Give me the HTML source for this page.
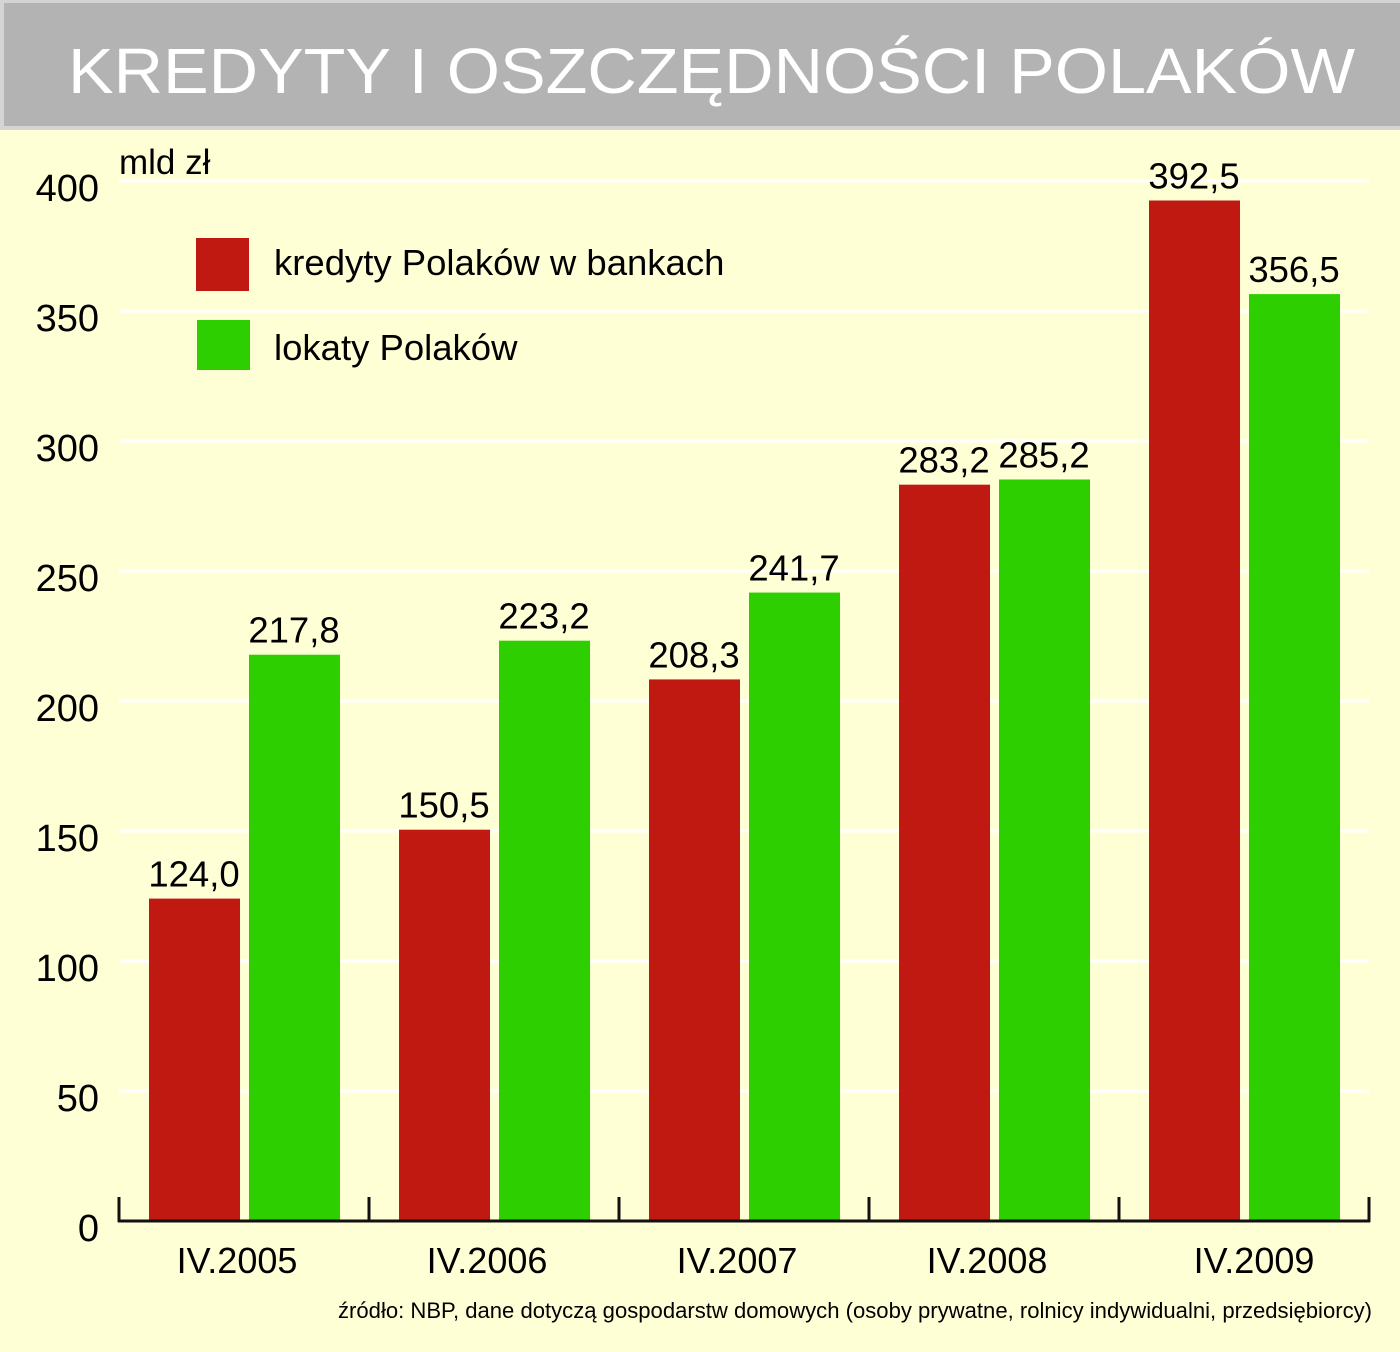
<!DOCTYPE html>
<html><head><meta charset="utf-8"><style>
html,body{margin:0;padding:0;}
body{width:1400px;height:1347px;background:#ffffd6;font-family:"Liberation Sans",sans-serif;overflow:hidden;}
</style></head><body>
<svg width="1400" height="1347" xmlns="http://www.w3.org/2000/svg">
<rect x="0" y="0" width="1400" height="1347" fill="#ffffd6"/>
<rect x="0" y="0" width="1400" height="130" fill="#d4d4d4"/>
<rect x="4" y="3" width="1396" height="123" fill="#b3b3b3"/>
<text x="68" y="93" font-size="64" fill="#ffffff" textLength="1287" lengthAdjust="spacingAndGlyphs">KREDYTY I OSZCZĘDNOŚCI POLAKÓW</text>
<g id="grid"></g>
<g id="bars"></g>
<g id="axis"></g>
<text x="119" y="174" font-size="35" fill="#000">mld zł</text>
<rect x="196" y="238" width="53" height="53" fill="#bf1912"/>
<text x="274" y="275" font-size="36.5" fill="#000">kredyty Polaków w bankach</text>
<rect x="197" y="320" width="53" height="50" fill="#2ecf00"/>
<text x="274" y="360" font-size="36.5" fill="#000">lokaty Polaków</text>
<text x="1372" y="1318" font-size="22" fill="#000" text-anchor="end" textLength="1034" lengthAdjust="spacingAndGlyphs">źródło: NBP, dane dotyczą gospodarstw domowych (osoby prywatne, rolnicy indywidualni, przedsiębiorcy)</text>
</svg>
<script>
const categories=["IV.2005","IV.2006","IV.2007","IV.2008","IV.2009"];
const kredyty=[124.0,150.5,208.3,283.2,392.5];
const lokaty=[217.8,223.2,241.7,285.2,356.5];
const yTicks=[0,50,100,150,200,250,300,350,400];
const NS="http://www.w3.org/2000/svg";
const y0=1221,k=2.6,xL=119,gw=250;
function y(v){return y0-v*k;}
function mk(t,a,p){const e=document.createElementNS(NS,t);for(const n in a)e.setAttribute(n,a[n]);p.appendChild(e);return e;}
const grid=document.getElementById('grid'),bars=document.getElementById('bars'),axis=document.getElementById('axis');
yTicks.forEach(v=>{
  if(v>0){const l=mk('line',{x1:xL,x2:1369,y1:y(v),y2:y(v),stroke:'#ffffff','stroke-width':3},grid);
  
  }
  const t=mk('text',{x:99,y:y(v)+20,'font-size':38,'text-anchor':'end',fill:'#000'},grid);
  t.textContent=v;
  
  
});
function fmt(v){return v.toFixed(1).replace('.',',');}
categories.forEach((c,i)=>{
  const gx=xL+i*gw;
  [[kredyty[i],30,'#bf1912','kredyty'],[lokaty[i],130,'#2ecf00','lokaty']].forEach(([v,off,col,nm])=>{
    const r=mk('rect',{x:gx+off,y:y(v),width:91,height:v*k,fill:col},bars);
    
    
    const t=mk('text',{x:gx+off+45,y:y(v)-12,'font-size':36.5,'text-anchor':'middle',fill:'#000'},bars);
    t.textContent=fmt(v);
    
    
  });
  const lab=mk('text',{x:gx+(i<4?118:135),y:1273,'font-size':36,'text-anchor':'middle',fill:'#000'},axis);
  lab.textContent=c;
  
  
});
const ax=mk('line',{x1:xL-1,x2:1370,y1:y0,y2:y0,stroke:'#111','stroke-width':3},axis);


for(let i=0;i<=categories.length;i++){
  const tk=mk('line',{x1:xL+i*gw,x2:xL+i*gw,y1:1197,y2:y0+1,stroke:'#111','stroke-width':3},axis);
  
  
}
</script>
</body></html>
